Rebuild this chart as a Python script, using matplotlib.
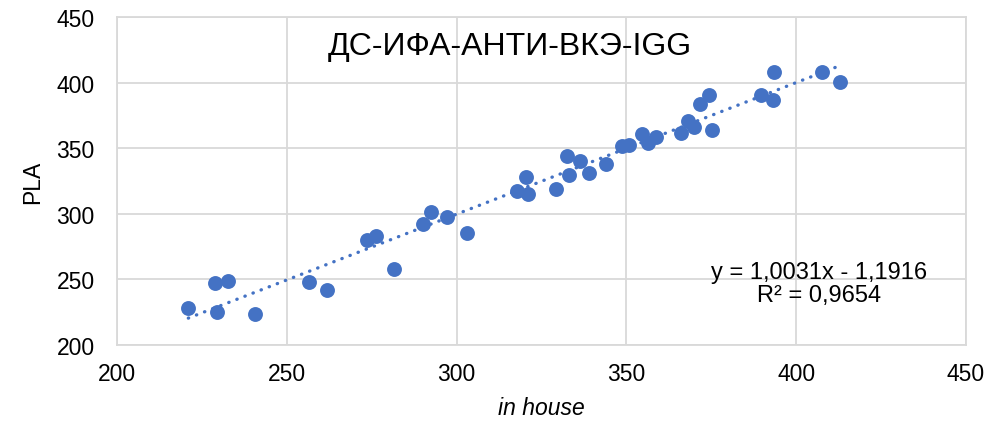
import matplotlib
matplotlib.use("Agg")
import matplotlib.pyplot as plt
import numpy as np

# --- datos: in house vs PLA ---
in_house = [221.0, 228.9, 232.8, 229.4, 240.5, 256.4, 261.8, 273.6, 276.3, 281.6,
            290.0, 292.6, 297.2, 303.2, 317.9, 320.5, 321.0, 329.2, 332.4, 333.1,
            336.2, 339.0, 344.1, 348.7, 350.9, 354.6, 356.3, 358.8, 366.2, 368.0,
            370.0, 371.7, 374.3, 375.3, 389.6, 393.1, 393.4, 407.6, 413.0]
pla = [228.1, 247.2, 248.9, 224.8, 224.0, 247.9, 242.1, 280.3, 282.8, 257.9,
       292.0, 301.1, 297.3, 285.0, 317.5, 328.2, 315.3, 318.8, 344.2, 329.4,
       340.4, 331.0, 338.3, 351.8, 352.5, 360.7, 353.8, 358.6, 361.9, 370.8,
       366.2, 384.0, 390.6, 364.0, 390.4, 386.5, 408.1, 408.1, 400.8]

# tendencia lineal reportada
pendiente = 1.0031
intercepto = -1.1916
r2 = 0.9654

titulo = "ДС-ИФА-АНТИ-ВКЭ-IGG"
x_ticks = [200, 250, 300, 350, 400, 450]
y_ticks = [200, 250, 300, 350, 400, 450]

AZUL = "#4472C4"
GRIS = "#D9D9D9"

plt.rcParams["font.family"] = ["Liberation Sans", "DejaVu Sans"]

fig = plt.figure(figsize=(9.9, 4.27), dpi=100)
ax = fig.add_axes([0.1182, 0.1897, 0.8576, 0.7681])

ax.scatter(in_house, pla, s=115, color=AZUL, zorder=3, linewidths=0)

xt = np.array([min(in_house), max(in_house)])
ax.plot(xt, pendiente * xt + intercepto, color=AZUL, lw=2.4,
        linestyle=(0, (0.1, 2.5)), dash_capstyle="round", zorder=2)

ax.set_xlim(x_ticks[0], x_ticks[-1])
ax.set_ylim(y_ticks[0], y_ticks[-1])
ax.set_xticks(x_ticks)
ax.set_yticks(y_ticks)
ax.grid(True, color=GRIS, lw=1.3, zorder=0)
ax.set_axisbelow(True)
for sp in ax.spines.values():
    sp.set_color(GRIS)
    sp.set_linewidth(1.3)
ax.tick_params(length=0, labelsize=16.5, pad=12)
ax.tick_params(axis="y", pad=16)

ax.set_xlabel("in house", fontsize=16.5, style="italic", labelpad=8)
ax.set_ylabel("PLA", fontsize=16.5, labelpad=9)

fig.text(510 / 990, 1 - 47 / 427, titulo, ha="center", va="center", fontsize=23)

eq = f"y = {pendiente:.4f}x - {abs(intercepto):.4f}\nR² = {r2:.4f}".replace(".", ",")
ax.text(406.6, 246.8, eq, ha="center", va="center", fontsize=17, linespacing=1.05)

fig.savefig("out.png", dpi=100)
